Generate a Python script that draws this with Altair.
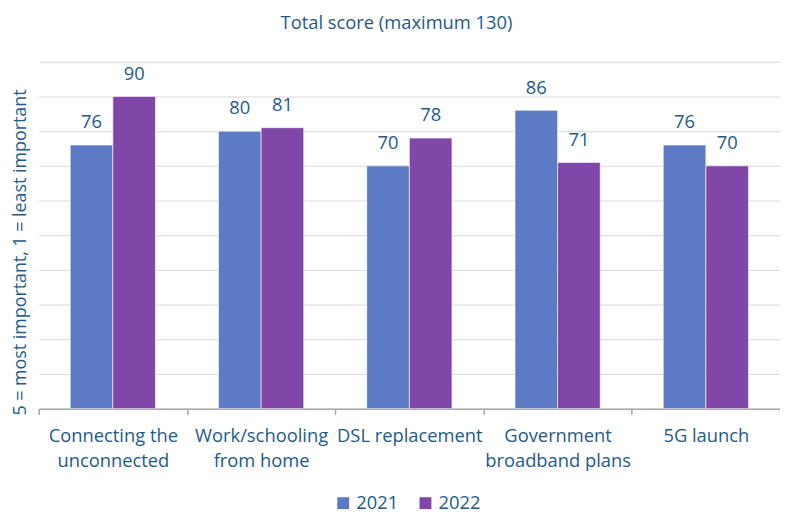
import altair as alt
import pandas as pd

categories = ["Connecting the\nunconnected", "Work/schooling\nfrom home", "DSL replacement",
              "Government\nbroadband plans", "5G launch"]
years = ["2021", "2022"]
values_2021 = [76, 80, 70, 86, 76]
values_2022 = [90, 81, 78, 71, 70]
colors = ["#5C7BC4", "#8047A9"]
text_color = "#1F5A8C"
font = "Open Sans"

rows = []
for c, v1, v2 in zip(categories, values_2021, values_2022):
    rows.append({"category": c, "year": years[0], "value": v1})
    rows.append({"category": c, "year": years[1], "value": v2})
df = pd.DataFrame(rows)

x = alt.X("category:N", sort=categories, title=None,
          scale=alt.Scale(paddingInner=0, paddingOuter=0),
          axis=alt.Axis(labelExpr="split(datum.label, '\\n')", labelAngle=0,
                        labelFontSize=18.5, labelColor=text_color, labelFont=font,
                        labelLineHeight=25, labelPadding=12, labelBaseline="top",
                        tickBand="extent", tickSize=6, tickColor="#A6A6A6", tickWidth=1.5,
                        domainColor="#A6A6A6", domainWidth=1.5, grid=False))
xo = alt.XOffset("year:N", sort=years, scale=alt.Scale(paddingOuter=0.74, paddingInner=0))
y = alt.Y("value:Q", scale=alt.Scale(domain=[0, 100]),
          title="5 = most important, 1 = least important",
          axis=alt.Axis(values=list(range(0, 101, 10)), labels=False, ticks=False,
                        domain=False, gridColor="#D9D9D9", gridWidth=1,
                        titleFontSize=18, titleColor=text_color, titleFont=font,
                        titleFontWeight="normal", titlePadding=9, titleY=192))

bars = alt.Chart(df).mark_bar(stroke="white", strokeWidth=0.6).encode(
    x=x, xOffset=xo, y=y,
    color=alt.Color("year:N", sort=years, scale=alt.Scale(domain=years, range=colors),
                    legend=alt.Legend(title=None, orient="none", direction="horizontal",
                                      legendX=298, legendY=436, symbolType="square",
                                      symbolSize=144, symbolStrokeWidth=0, labelFontSize=18.5,
                                      labelColor=text_color, labelFont=font, labelOffset=4,
                                      columnPadding=18, padding=0)),
)
labels = alt.Chart(df).mark_text(fontSize=18.5, color=text_color, font=font, baseline="alphabetic",
                                 dy=-17).encode(
    x=x, xOffset=xo, y=y, text="value:Q")

chart = alt.layer(bars, labels).properties(
    width=748, height=350,
    title=alt.TitleParams("Total score (maximum 130)", fontSize=18.5, fontWeight="normal",
                          color=text_color, font=font, anchor="middle", offset=30, dx=-13),
    autosize=alt.AutoSizeParams(type="none"),
    padding={"left": 31, "top": 52, "right": 0, "bottom": 104},
).configure_view(stroke=None)

chart.save("out.html", embed_options={"renderer": "svg", "actions": False})
